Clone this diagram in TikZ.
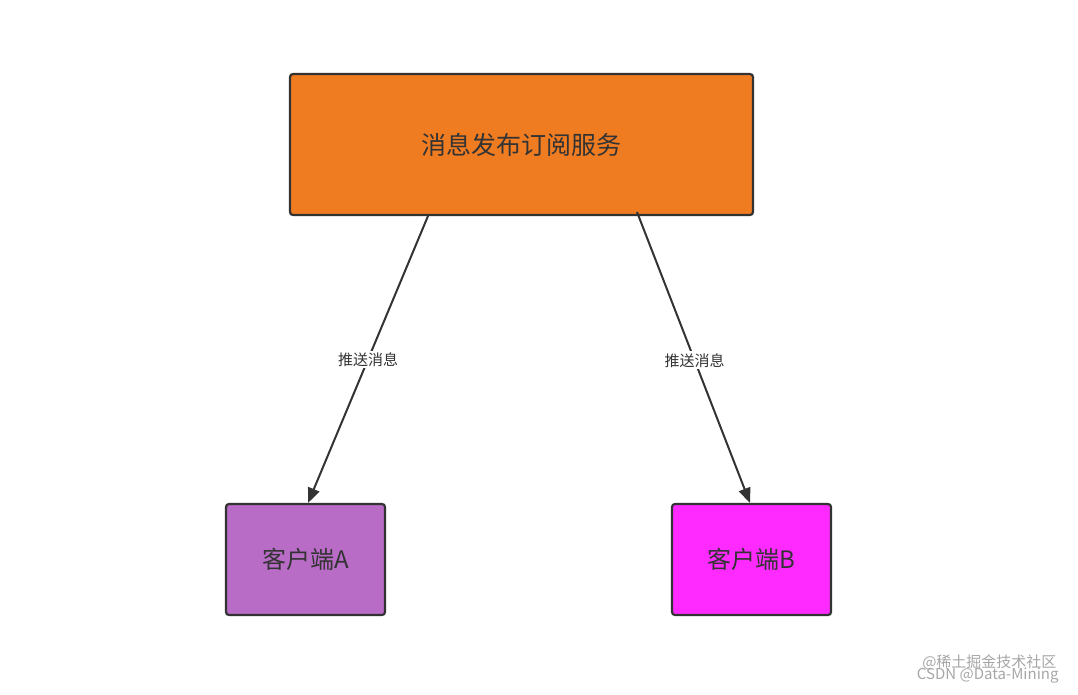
\documentclass[tikz,border=0pt]{standalone}
\usepackage{fontspec}
\setmainfont{Noto Sans CJK SC}
\usetikzlibrary{arrows.meta}
\definecolor{org}{HTML}{F07C22}
\definecolor{pa}{HTML}{B86CC6}
\definecolor{pb}{HTML}{FF2AFF}
\definecolor{ln}{HTML}{333333}
\tikzset{box/.style={draw=ln,line width=2.2pt,rounded corners=3pt,inner sep=0pt,text=ln},
 arr/.style={draw=ln,line width=2pt,-{Triangle[length=15pt,width=12pt]}},
 lab/.style={fill=white,font=\fontsize{15}{15}\selectfont,text=ln,inner sep=2pt}}
\begin{document}
\begin{tikzpicture}[x=1pt,y=-1pt]
\useasboundingbox (0,0) rectangle (1078,694);
\node[box,fill=org,minimum width=463pt,minimum height=141pt,font=\fontsize{25}{25}\selectfont] (s) at (521.5,144.5) {消息发布订阅服务};
\node[box,fill=pa,minimum width=159pt,minimum height=111pt,font=\fontsize{24}{24}\selectfont] (a) at (305.5,559.5) {客户端A};
\node[box,fill=pb,minimum width=159pt,minimum height=111pt,font=\fontsize{24}{24}\selectfont] (b) at (751.5,559.5) {客户端B};
\coordinate (s1) at (428,216);
\coordinate (s2) at (637,212);
\draw[arr] (s1) -- (308,503) node[lab,pos=0.5] {推送消息};
\draw[arr] (s2) -- (750,503) node[lab,pos=0.51] {推送消息};
\node[text=gray!70,font=\fontsize{15}{15}\selectfont,anchor=east] (w1) at (1060,662) {@稀土掘金技术社区};
\node[text=gray!70,font=\fontsize{15}{15}\selectfont,anchor=east] (w2) at (1062,676) {CSDN @Data-Mining};
\end{tikzpicture}
\end{document}
